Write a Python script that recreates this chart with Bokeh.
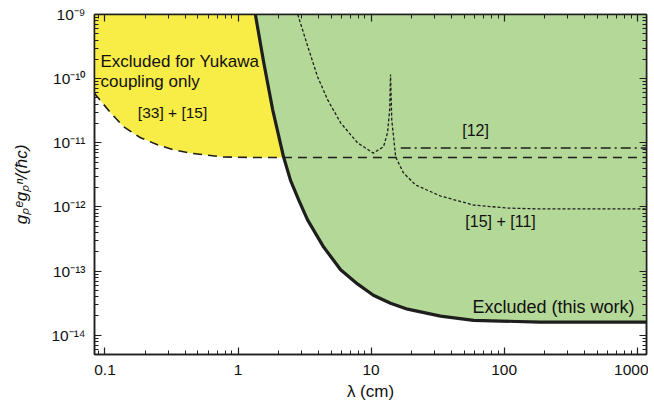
import numpy as np
from bokeh.plotting import figure
from bokeh.models import Range1d, LogAxis, FixedTicker, CustomJSTickFormatter, Label
from bokeh.embed import file_html
from bokeh.resources import INLINE

# ---------------- data ----------------
# Excluded (this work) boundary: lambda [cm], coupling
this_work_lam = [1.35, 1.56, 1.82, 2.20, 2.48, 2.85, 3.33, 4.40, 5.90, 7.94, 10.4, 14.0,
                 18.8, 33.3, 59.0, 187.0, 1175.0]
this_work_g = [1.0e-9, 1.78e-10, 3.3e-11, 6.0e-12, 2.6e-12, 1.3e-12, 6.3e-13, 2.37e-13,
               1.05e-13, 6.26e-14, 4.2e-14, 3.16e-14, 2.55e-14, 1.99e-14, 1.71e-14,
               1.6e-14, 1.6e-14]

# Yukawa-only limit [33] + [15] (dashed)
yukawa_lam = [0.0834, 0.085, 0.11, 0.138, 0.185, 0.248, 0.327, 0.44, 0.78, 1.40, 2.20, 1175.0]
yukawa_g = [6.0e-11, 5.6e-11, 2.95e-11, 1.78e-11, 1.2e-11, 9.3e-12, 7.8e-12, 6.9e-12,
            6.0e-12, 5.9e-12, 5.9e-12, 5.9e-12]

# [15] + [11] (dotted)
ref15_11_lam = [2.81, 3.34, 3.96, 4.71, 5.90, 7.91, 10.4, 12.4, 13.3, 13.8, 14.0,
                14.3, 15.3, 17.5, 21.6, 33.3, 59.0, 106.0, 187.0, 1175.0]
ref15_11_g = [1.0e-9, 3.2e-10, 1.07e-10, 4.7e-11, 2.05e-11, 1.0e-11, 6.9e-12, 8.7e-12,
              1.44e-11, 3.3e-11, 1.16e-10, 2.3e-11, 6.0e-12, 3.4e-12, 2.2e-12, 1.48e-12,
              1.07e-12, 9.6e-13, 9.3e-13, 9.3e-13]

# [12] (dash-dot)
ref12_lam = [16.7, 1175.0]
ref12_g = [8.3e-12, 8.3e-12]

x_major = [0.1, 1, 10, 100, 1000]
y_major = [1e-14, 1e-13, 1e-12, 1e-11, 1e-10, 1e-9]

X_MIN, X_MAX = 0.0834, 1175.0
Y_MIN, Y_MAX = 10 ** -14.3, 1e-9

FONT = "Liberation Sans"
YELLOW = "#F8EC46"
GREEN = "#B4D897"
INK = "#1e1e1e"

x_minor = [m * 10.0 ** k for k in range(-2, 4) for m in range(1, 10)]
y_minor = [m * 10.0 ** k for k in range(-15, -8) for m in range(1, 10)]

p = figure(x_axis_type="log", y_axis_type="log",
           x_range=Range1d(X_MIN, X_MAX), y_range=Range1d(Y_MIN, Y_MAX),
           frame_width=552, frame_height=340,
           min_border_left=94, min_border_top=14, min_border_right=2, min_border_bottom=4,
           output_backend="svg", toolbar_location=None)
p.xgrid.visible = False
p.ygrid.visible = False
p.outline_line_color = INK
p.outline_line_width = 1.5
p.background_fill_color = "white"

# ---------------- regions ----------------
cut = this_work_lam[this_work_g.index(6.0e-12)]
yx = [l for l in yukawa_lam if l <= cut]
yy = [g for l, g in zip(yukawa_lam, yukawa_g) if l <= cut]
bx = [l for l in this_work_lam if l <= cut][::-1]
by = [g for l, g in zip(this_work_lam, this_work_g) if l <= cut][::-1]
p.patch(yx + bx + [X_MIN], yy + by + [Y_MAX], fill_color=YELLOW, line_color=None)

p.patch(this_work_lam + [X_MAX], this_work_g + [Y_MAX], fill_color=GREEN, line_color=None)

# ---------------- lines ----------------
p.line(yukawa_lam, yukawa_g, line_color=INK, line_width=1.6, line_dash="9 6")
p.line(ref15_11_lam, ref15_11_g, line_color=INK, line_width=1.3, line_dash="3 2")
p.line(ref12_lam, ref12_g, line_color=INK, line_width=1.4, line_dash="10 4 2 4")
p.line(this_work_lam, this_work_g, line_color=INK, line_width=3.2, line_join="round")

# ---------------- axes ----------------
xfmt = CustomJSTickFormatter(code="return String(tick);")
yfmt = CustomJSTickFormatter(code="""
const sup = {'-':'\u207b','0':'\u2070','1':'\u00b9','2':'\u00b2','3':'\u00b3','4':'\u2074',
             '5':'\u2075','6':'\u2076','7':'\u2077','8':'\u2078','9':'\u2079'};
const e = Math.round(Math.log10(tick));
return '10' + String(e).split('').map(c => sup[c]).join('');
""")
blank = CustomJSTickFormatter(code="return '';")

def style(ax):
    ax.axis_line_color = INK
    ax.axis_line_width = 1.5
    ax.major_tick_line_color = INK
    ax.minor_tick_line_color = INK
    ax.major_tick_line_width = 1.2
    ax.minor_tick_line_width = 1.0
    ax.major_tick_in = 7
    ax.major_tick_out = 0
    ax.minor_tick_in = 4
    ax.minor_tick_out = 0
    ax.major_label_text_font = FONT
    ax.major_label_text_font_size = "15.5px"
    ax.major_label_text_color = "#111"
    ax.axis_label_text_font = FONT
    ax.axis_label_text_font_style = "normal"
    ax.axis_label_text_font_size = "17px"
    ax.axis_label_text_color = "#111"

p.xaxis.ticker = FixedTicker(ticks=x_major, minor_ticks=x_minor)
p.xaxis.formatter = xfmt
p.xaxis.axis_label = "\u03bb (cm)"
p.xaxis.major_label_standoff = 10
p.xaxis.axis_label_standoff = 4
style(p.xaxis[0])

p.yaxis.ticker = FixedTicker(ticks=y_major, minor_ticks=y_minor)
p.yaxis.formatter = yfmt
p.yaxis.axis_label = "g\u209a\u1d49g\u209a\u207f/(\u0127c)"
p.yaxis.major_label_standoff = 9
p.yaxis.axis_label_standoff = 17
style(p.yaxis[0])
p.yaxis.axis_label_text_font_style = "italic"

top = LogAxis(ticker=FixedTicker(ticks=x_major, minor_ticks=x_minor), formatter=blank)
style(top)
top.major_label_standoff = 0
p.add_layout(top, "above")

right = LogAxis(ticker=FixedTicker(ticks=y_major, minor_ticks=y_minor), formatter=blank)
style(right)
right.major_label_standoff = 0
p.add_layout(right, "right")

# ---------------- annotations ----------------
def lab(x, y, t, size="15px", align="left"):
    p.add_layout(Label(x=x, y=y, text=t, text_font=FONT, text_font_size=size,
                       text_color="#111", text_align=align, text_baseline="middle"))

lab(0.0925, 1.85e-10, "Excluded for Yukawa", "17px")
lab(0.0925, 8.9e-11, "coupling only", "17px")
lab(0.322, 2.94e-11, "[33] + [15]", "15.5px", "center")
lab(61.0, 1.54e-11, "[12]", "16px", "center")
lab(94.0, 5.9e-13, "[15] + [11]", "16px", "center")
lab(956.0, 2.8e-14, "Excluded (this work)", "18px", "right")

open("out.html", "w").write(file_html(p, INLINE))
